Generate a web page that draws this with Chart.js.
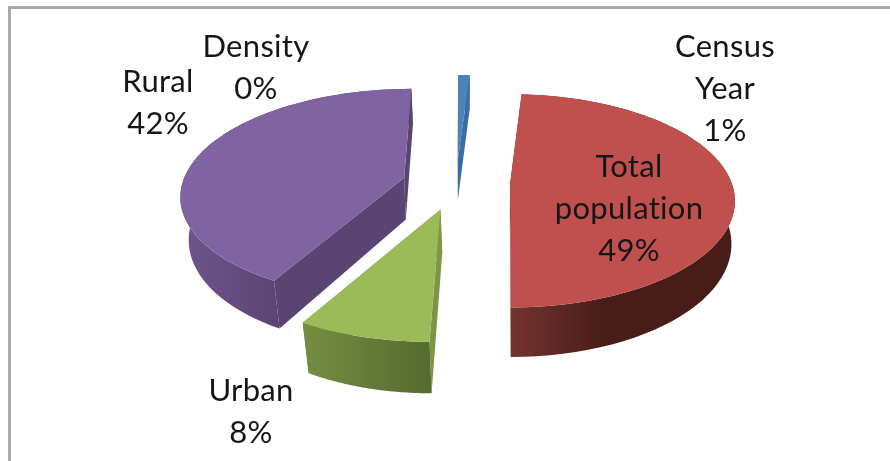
<!DOCTYPE html>
<html>
<head>
<meta charset="utf-8">
<style>
html, body { margin: 0; padding: 0; background: #fff; overflow: hidden; }
#frame { position: absolute; left: 8px; top: 6px; width: 890px; height: 470px; border-left: 3px solid #aaaaaa; border-top: 3px solid #aaaaaa; filter: blur(0.5px); }
canvas { position: absolute; left: 0; top: 0; filter: blur(0.5px); }
</style>
</head>
<body>
<div id="frame"></div>
<canvas id="chart" width="890" height="461"></canvas>
<script src="https://cdn.jsdelivr.net/npm/chart.js@4"></script>
<script>
var categories = ["Census Year", "Total population", "Urban", "Rural", "Density"];
var shares = [1, 49, 8, 42, 0];
var sliceColors = ["#4f81bd", "#c0504d", "#9bbb59", "#8064a2", "#4bacc6"];
var wallColors = ["#3a6ca6", "#4a1d1a", "#7d9645", "#5a4472", "#3a8ba0"];
var rimLeft = ["#3a6ca6", "#743430", "#748e42", "#70548c", "#3a8ba0"];
var rimRight = ["#3a6ca6", "#471c19", "#566b30", "#5a4472", "#3a8ba0"];
var rimStop = [0.5, 0.42, 1, 0.45, 0.5];

// where each label sits, one entry per category
var labelLines = [["Census", "Year"], ["Total", "population"], ["Urban"], ["Rural"], ["Density"]];
var labelX = [725, 629, 251, 158, 256];
var labelY = [47, 167, 391, 82, 47];

// view of the tilted pie
var centerX = 456, centerY = 184;
var widthScale = 222, heightScale = 104, tilt = 0.15, depth = 42;
var vanishX = [460, 506, 500, 460, 456];
var depthShrink = [0.03, 0.015, 0.03, 0.03, 0.03];

function project(i, u, v) {
    var w = 1 / (1 + tilt * v);
    var x = centerX + widthScale * u;
    var px = vanishX[i] + (x - vanishX[i]) * w;
    return {
        x: px,
        y: centerY - heightScale * v * w,
        bx: px + (vanishX[i] - px) * depthShrink[i],
        d: depth * w
    };
}

function drawSlice(ctx, i, arc) {
    var R = arc.outerRadius;
    var mid = (arc.startAngle + arc.endAngle) / 2;
    var off = arc.options.offset / R;
    var ou = Math.cos(mid) * off, ov = -Math.sin(mid) * off;
    var apex = project(i, ou, ov);
    var steps = 60, edge = [], k;
    for (k = 0; k <= steps; k++) {
        var a = arc.startAngle + (arc.endAngle - arc.startAngle) * k / steps;
        edge.push(project(i, ou + Math.cos(a), ov - Math.sin(a)));
    }
    var first = edge[0], last = edge[steps];

    function wall(p) {
        ctx.fillStyle = wallColors[i];
        ctx.beginPath();
        ctx.moveTo(apex.x, apex.y);
        ctx.lineTo(p.x, p.y);
        ctx.lineTo(p.bx, p.y + p.d);
        ctx.lineTo(apex.bx, apex.y + apex.d);
        ctx.closePath();
        ctx.fill();
    }
    wall(first);
    wall(last);

    var minX = Infinity, maxX = -Infinity;
    edge.forEach(function (p) {
        minX = Math.min(minX, p.x);
        maxX = Math.max(maxX, p.x);
    });
    var grad = ctx.createLinearGradient(minX, 0, maxX, 0);
    grad.addColorStop(0, rimLeft[i]);
    grad.addColorStop(rimStop[i], rimRight[i]);
    grad.addColorStop(1, rimRight[i]);
    ctx.fillStyle = grad;
    ctx.beginPath();
    edge.forEach(function (p, n) {
        if (n === 0) ctx.moveTo(p.x, p.y); else ctx.lineTo(p.x, p.y);
    });
    for (k = steps; k >= 0; k--) ctx.lineTo(edge[k].bx, edge[k].y + edge[k].d);
    ctx.closePath();
    ctx.fill();

    ctx.fillStyle = arc.options.backgroundColor;
    ctx.beginPath();
    ctx.moveTo(apex.x, apex.y);
    edge.forEach(function (p) { ctx.lineTo(p.x, p.y); });
    ctx.closePath();
    ctx.fill();
}

var pie3d = {
    id: "pie3d",
    beforeDatasetsDraw: function (chart) {
        var ctx = chart.ctx;
        var arcs = chart.getDatasetMeta(0).data;
        ctx.save();
        arcs.forEach(function (arc, i) {
            if (shares[i] > 0) drawSlice(ctx, i, arc);
        });
        ctx.restore();
        return false;
    },
    afterDraw: function (chart) {
        var ctx = chart.ctx;
        ctx.save();
        ctx.fillStyle = "#161616";
        ctx.font = "31px Lato";
        ctx.letterSpacing = "0.3px";
        ctx.textAlign = "center";
        ctx.textBaseline = "middle";
        labelLines.forEach(function (lines, i) {
            var rows = lines.concat([shares[i] + "%"]);
            rows.forEach(function (row, n) {
                ctx.fillText(row, labelX[i], labelY[i] + n * 42);
            });
        });
        ctx.restore();
    }
};

new Chart(document.getElementById("chart").getContext("2d"), {
    type: "pie",
    data: {
        labels: categories,
        datasets: [{
            data: shares,
            backgroundColor: sliceColors,
            borderWidth: 0,
            offset: 50
        }]
    },
    options: {
        responsive: false,
        animation: false,
        plugins: { legend: { display: false }, tooltip: { enabled: false } }
    },
    plugins: [pie3d]
});
</script>
</body>
</html>
